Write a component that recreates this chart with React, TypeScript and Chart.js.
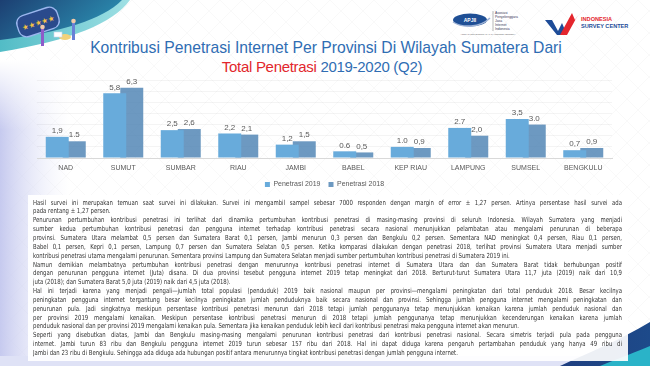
import React, { useEffect, useRef } from "react";
import { Chart, registerables } from "chart.js";

Chart.register(...registerables);

const categories = ["NAD", "SUMUT", "SUMBAR", "RIAU", "JAMBI", "BABEL", "KEP RIAU", "LAMPUNG", "SUMSEL", "BENGKULU"];
const penetrasi2019 = [1.9, 5.8, 2.5, 2.2, 1.2, 0.6, 1.0, 2.7, 3.5, 0.7];
const penetrasi2018 = [1.5, 6.3, 2.6, 2.1, 1.5, 0.5, 0.9, 2.0, 3.0, 0.9];
const labels2019 = ["1,9", "5,8", "2,5", "2,2", "1,2", "0.6", "1.0", "2.7", "3,5", "0,7"];
const labels2018 = ["1.5", "6,3", "2,6", "2,1", "1,5", "0,5", "0,9", "2,0", "3.0", "0,9"];
const seriesNames = ["Penetrasi 2019", "Penetrasi 2018"];
const yMax = 7;

const titleLine1 = "Kontribusi Penetrasi Internet Per Provinsi Di Wilayah Sumatera Dari";
const titleRed = "Total Penetrasi";
const titleRest = " 2019-2020 (Q2)";

const bodyLines: [string, boolean][] = [
  ["Hasil survei ini merupakan temuan saat survei ini dilakukan. Survei ini mengambil sampel sebesar 7000 responden dengan margin of error ± 1,27 persen. Artinya persentase hasil survei ada", false],
  ["pada rentang ± 1,27 persen.", true],
  ["Penurunan pertumbuhan kontribusi penetrasi ini terlihat dari dinamika pertumbuhan kontribusi penetrasi di masing-masing provinsi di seluruh Indonesia. Wilayah Sumatera yang menjadi", false],
  ["sumber kedua pertumbuhan kontribusi penetrasi dan pengguna internet terhadap kontribusi penetrasi secara nasional menunjukkan pelambatan atau mengalami penurunan di beberapa", false],
  ["provinsi. Sumatera Utara melambat 0,5 persen dan Sumatera Barat 0,1 persen, Jambi menurun 0,3 persen dan Bengkulu 0,2 persen. Sementara NAD meningkat 0,4 persen, Riau 0,1 persen,", false],
  ["Babel 0,1 persen, Kepri 0,1 persen, Lampung 0,7 persen dan Sumatera Selatan 0,5 persen. Ketika komparasi dilakukan dengan penetrasi 2018, terlihat  provinsi Sumatera Utara menjadi sumber", false],
  ["kontribusi penetrasi utama mengalami penurunan. Sementara provinsi Lampung  dan Sumatera Selatan menjadi sumber pertumbuhan kontribusi penetrasi di Sumatera 2019 ini.", true],
  ["Namun demikian melambatnya pertumbuhan kontribusi penetrasi dengan menurunnya kontribusi penetrasi internet di Sumatera Utara dan dan Sumatera Barat tidak berhubungan positif", false],
  ["dengan penurunan pengguna internet (Juta) disana. Di dua provinsi tesebut pengguna internet 2019 tetap meningkat dari 2018. Berturut-turut Sumatera Utara 11,7 juta (2019) naik dari 10,9", false],
  ["juta (2018); dan Sumatera Barat 5,0 juta (2019) naik dari 4,5 juta (2018).", true],
  ["Hal ini terjadi karena yang menjadi pengali—jumlah total populasi (penduduk) 2019 baik nasional maupun per provinsi—mengalami peningkatan dari total penduduk 2018. Besar kecilnya", false],
  ["peningkatan pengguna internet tergantung besar kecilnya peningkatan jumlah penduduknya baik secara nasional dan provinsi. Sehingga jumlah pengguna internet mengalami peningkatan dan", false],
  ["penurunan pula. Jadi singkatnya meskipun persentase kontribusi penetrasi menurun dari 2018 tetapi jumlah penggunanya tetap menunjukkan kenaikan karena jumlah penduduk nasional dan", false],
  ["per provinsi 2019 mengalami kenaikan. Meskipun persentase kontribusi penetrasi menurun di 2018 tetapi jumlah penggunanya tetap menunjukkan kecenderungan kenaikan karena jumlah", false],
  ["penduduk nasional dan per provinsi 2019 mengalami kenaikan pula. Sementara jika kenaikan penduduk lebih kecil dari kontribusi penetrasi maka pengguna internet akan menurun.", true],
  ["Seperti yang disebutkan diatas, Jambi dan Bengkulu masing-masing mengalami penurunan kontribusi penetrasi dari kontribusi penetrasi nasional. Secara simetris terjadi pula pada pengguna", false],
  ["internet. Jambi turun 83 ribu dan Bengkulu pengguna internet 2019 turun sebesar 157 ribu dari 2018. Hal ini dapat diduga karena pengaruh pertambahan penduduk yang hanya 49 ribu di", false],
  ["Jambi dan 23 ribu di Bengkulu. Sehingga ada diduga ada hubungan positif antara menurunnya tingkat kontribusi penetrasi dengan jumlah pengguna internet.", true],
];

const valueLabelPlugin = {
  id: "valueLabels",
  afterDatasetsDraw(chart: any) {
    const ctx = chart.ctx;
    const sets = [labels2019, labels2018];
    ctx.save();
    ctx.font = "8px 'Liberation Sans', Arial, sans-serif";
    ctx.fillStyle = "#595959";
    ctx.textAlign = "center";
    ctx.textBaseline = "bottom";
    chart.data.datasets.forEach((_: any, di: number) => {
      const meta = chart.getDatasetMeta(di);
      meta.data.forEach((bar: any, i: number) => {
        ctx.fillText(sets[di][i], bar.x, bar.y - 2);
      });
    });
    ctx.restore();
  },
};

const CANVAS_TOP = 70;
const CANVAS_H = 128;

function BarChart() {
  const ref = useRef<HTMLCanvasElement | null>(null);
  useEffect(() => {
    if (!ref.current) return;
    const chart = new Chart(ref.current, {
      type: "bar",
      data: {
        labels: categories,
        datasets: [
          {
            label: seriesNames[0],
            data: penetrasi2019,
            backgroundColor: "rgb(104,171,219)",
            borderWidth: 0,
          },
          {
            label: seriesNames[1],
            data: penetrasi2018,
            backgroundColor: "rgba(72,128,178,0.8)",
            borderWidth: 0,
          },
        ],
      },
      options: {
        animation: false,
        responsive: false,
        maintainAspectRatio: false,
        categoryPercentage: 0.592,
        barPercentage: 1.35,
        layout: { padding: { left: 37, right: 38, top: 10, bottom: 0 } },
        plugins: {
          legend: {
            position: "bottom",
            labels: {
              boxWidth: 5,
              boxHeight: 5,
              padding: 8,
              color: "#595959",
              font: { size: 7, family: "'Liberation Sans', Arial, sans-serif" },
            },
          },
          tooltip: { enabled: false },
        },
        scales: {
          x: {
            grid: { display: false, drawTicks: false },
            border: { color: "#d9d9d9", width: 1 },
            ticks: {
              color: "#595959",
              padding: 6,
              maxRotation: 0,
              font: { size: 7, family: "'Liberation Sans', Arial, sans-serif" },
            },
            afterFit: (scale: any) => {
              scale.height = 15;
            },
          },
          y: {
            min: 0,
            max: yMax,
            ticks: { display: false, stepSize: 1 },
            grid: { color: "rgba(0,0,0,0.045)", drawTicks: false },
            border: { display: false },
          },
        },
      },
      plugins: [valueLabelPlugin],
    });
    return () => chart.destroy();
  }, []);
  return (
    <canvas
      ref={ref}
      width={650}
      height={CANVAS_H}
      style={{ position: "absolute", left: 0, top: CANVAS_TOP, width: 650, height: CANVAS_H }}
    />
  );
}

function Decorations() {
  return (
    <svg width={650} height={366} style={{ position: "absolute", left: 0, top: 0 }}>
      <defs>
        <linearGradient id="lav" x1="0" y1="0" x2="1" y2="0">
          <stop offset="0" stopColor="#c3c7ee" stopOpacity="0.95" />
          <stop offset="1" stopColor="#e9ebfa" stopOpacity="0" />
        </linearGradient>
        <linearGradient id="lavV" x1="0" y1="0" x2="0" y2="1">
          <stop offset="0" stopColor="#ffffff" stopOpacity="1" />
          <stop offset="1" stopColor="#ffffff" stopOpacity="0" />
        </linearGradient>
        <linearGradient id="navy" x1="0" y1="0" x2="1" y2="0.4">
          <stop offset="0" stopColor="#1c3f72" />
          <stop offset="1" stopColor="#2b8db0" />
        </linearGradient>
        <linearGradient id="teal" x1="0" y1="0" x2="1" y2="0">
          <stop offset="0" stopColor="#52bcc6" />
          <stop offset="1" stopColor="#9fe0e4" />
        </linearGradient>
        <linearGradient id="br" x1="0" y1="0" x2="1" y2="0">
          <stop offset="0" stopColor="#1f3f80" />
          <stop offset="1" stopColor="#1d4a8a" />
        </linearGradient>
        <pattern id="diamond" width="22" height="22" patternUnits="userSpaceOnUse">
          <path d="M0,0 L22,22 M22,0 L0,22" stroke="#000" strokeOpacity="0.025" strokeWidth="1" />
        </pattern>
      </defs>
      <rect x="0" y="0" width="650" height="366" fill="#ffffff" />
      <rect x="0" y="0" width="650" height="366" fill="url(#diamond)" />
      <rect x="0" y="60" width="70" height="306" fill="url(#lav)" />
      <rect x="0" y="60" width="70" height="70" fill="url(#lavV)" />
      <rect x="0" y="356" width="650" height="10" fill="#dfe2f6" />
      {/* top-left swoosh */}
      <path d="M0,0 H130 C112,24 72,40 0,52 Z" fill="url(#teal)" />
      <path d="M0,0 H122 C102,20 62,32 0,40 Z" fill="url(#navy)" />
      {/* speech bubble */}
      <g transform="rotate(-18 38 22)">
        <rect x="17" y="11" width="42" height="22" rx="8" fill="#2a4a8c" stroke="#9bb6ee" strokeWidth="1.4" />
        <text x="38" y="25.5" textAnchor="middle" fontSize="7.5" fill="#f4c244" fontFamily="DejaVu Sans">★★★★★</text>
      </g>
      <rect x="41" y="29" width="3" height="17" fill="#8e5bc9" />
      <circle cx="42.5" cy="27" r="2.3" fill="#f2c9a8" />
      <rect x="72" y="23" width="3" height="17" fill="#6a7fd6" />
      <circle cx="73.5" cy="21" r="2.3" fill="#f2c9a8" />
      <ellipse cx="65" cy="37" rx="6" ry="3" fill="#f3d27a" />
      <rect x="54" y="32" width="8" height="5" fill="#ffffff" stroke="#c9d6ee" strokeWidth="0.6" />
      {/* bottom-right swoosh */}
      <path d="M560,366 C590,352 620,340 650,322 V366 Z" fill="url(#br)" />
      <path d="M600,366 C620,358 636,352 650,346 V366 Z" fill="#2ab3c8" />
      {/* APJII logo */}
      <ellipse cx="470" cy="20" rx="17" ry="6.5" fill="#1f4f95" />
      <path d="M453,22 C462,28 480,28 490,18" stroke="#9fb3d6" strokeWidth="1.5" fill="none" />
      <text x="470" y="22" textAnchor="middle" fontSize="5" fontWeight="bold" fill="#ffffff" fontFamily="Liberation Sans">APJII</text>
      <line x1="493" y1="11" x2="493" y2="31" stroke="#6d6d6d" strokeWidth="0.5" />
      <text fontSize="3.4" fill="#3a3a5a" fontFamily="Liberation Sans">
        <tspan x="495" y="14">Asosiasi</tspan>
        <tspan x="495" y="18">Penyelenggara</tspan>
        <tspan x="495" y="22">Jasa</tspan>
        <tspan x="495" y="26">Internet</tspan>
        <tspan x="495" y="30">Indonesia</tspan>
      </text>
      <text x="488" y="35" textAnchor="middle" fontSize="2" fill="#666" fontFamily="Liberation Sans">ASOSIASI PENYELENGGARA JASA INTERNET INDONESIA</text>
      {/* ISC logo */}
      <path d="M545,20 L552,20 L558,31 L562,23 L565,30 L562,35 L557,35 Z" fill="#1e4c98" />
      <path d="M560,35 L572,13 L575,20 L578,15 L567,35 Z" fill="#e4262d" />
      <text x="581" y="21" fontSize="5.6" fontWeight="bold" fill="#e4262d" fontFamily="Liberation Sans">INDONESIA</text>
      <text x="581" y="28" fontSize="5.6" fontWeight="bold" fill="#1e4c98" fontFamily="Liberation Sans">SURVEY CENTER</text>
    </svg>
  );
}

const TEXT_SCALE = 0.85;
const TEXT_W = 589;

export default function App() {
  return (
    <div style={{ position: "fixed", left: 0, top: 0, width: 650, height: 366, overflow: "hidden", background: "#fff" }}>
      <Decorations />
      <div
        style={{
          position: "absolute",
          left: 0,
          top: 38,
          width: 652,
          textAlign: "center",
          fontFamily: "'Liberation Sans', Arial, sans-serif",
          fontSize: 15.7,
          lineHeight: "19px",
          color: "#2f6db3",
          whiteSpace: "nowrap",
        }}
      >
        <div>{titleLine1}</div>
        <div style={{ marginLeft: -8, fontSize: 15, letterSpacing: -0.3 }}>
          <span style={{ color: "#e2262c" }}>{titleRed}</span>
          {titleRest}
        </div>
      </div>
      <BarChart />
      <div
        style={{
          position: "absolute",
          left: 28,
          top: 195,
          width: 600,
          height: 166,
          background: "rgba(255,255,255,0.92)",
          boxSizing: "border-box",
          paddingTop: 3.6,
          paddingLeft: 5,
          overflow: "hidden",
        }}
      >
        <div
          style={{
            width: TEXT_W / TEXT_SCALE,
            transform: `scaleX(${TEXT_SCALE})`,
            transformOrigin: "0 0",
            fontFamily: "'Liberation Sans Narrow', 'DejaVu Sans Condensed', sans-serif",
            fontSize: 7,
            color: "#333333",
          }}
        >
          {bodyLines.map(([t, end], i) => (
            <div
              key={i}
              style={{
                height: 8.85,
                lineHeight: "8.85px",
                overflow: "hidden",
                textAlign: end ? "left" : "justify",
                textAlignLast: end ? "left" : "justify",
              }}
            >
              {t}
            </div>
          ))}
        </div>
      </div>
    </div>
  );
}
